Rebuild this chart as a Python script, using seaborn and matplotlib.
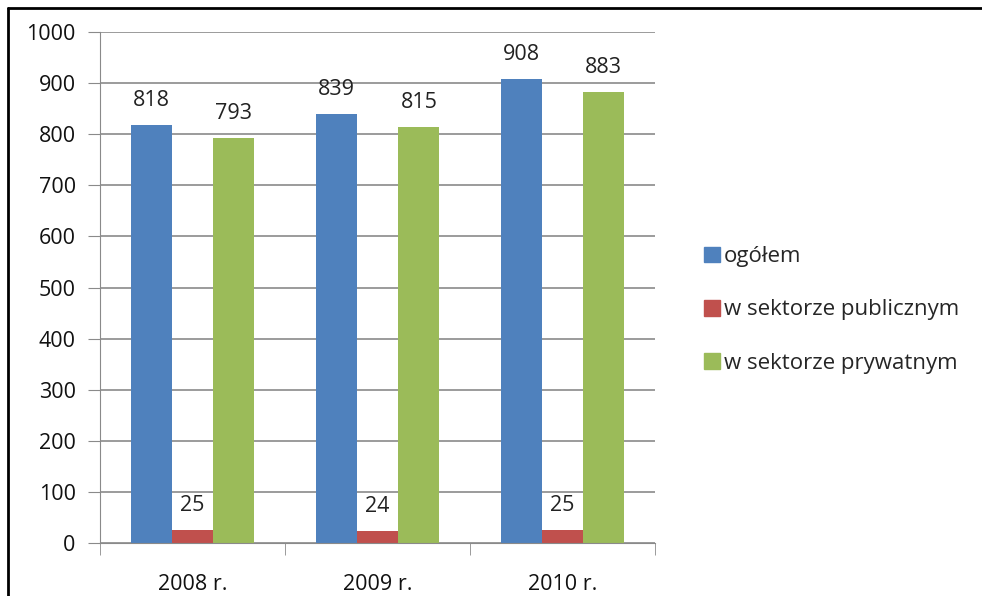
import pandas as pd
import matplotlib.pyplot as plt
import seaborn as sns
from matplotlib.lines import Line2D

years = ["2008 r.", "2009 r.", "2010 r."]
series = ["ogółem", "w sektorze publicznym", "w sektorze prywatnym"]
ogolem = [818, 839, 908]
publiczny = [25, 24, 25]
prywatny = [793, 815, 883]
colors = ["#4F81BD", "#C0504D", "#9BBB59"]

rows = []
for i, y in enumerate(years):
    rows.append((y, series[0], ogolem[i]))
    rows.append((y, series[1], publiczny[i]))
    rows.append((y, series[2], prywatny[i]))
df = pd.DataFrame(rows, columns=["rok", "seria", "wartosc"])

sns.set_style("white")
plt.rcParams["font.family"] = ["Open Sans", "DejaVu Sans"]

fig = plt.figure(figsize=(9.82, 5.96), dpi=100)
ax = fig.add_axes([100 / 982, 1 - 543 / 596, 555 / 982, 511 / 596])

sns.barplot(data=df, x="rok", y="wartosc", hue="seria", palette=colors,
            width=0.67, saturation=1, linewidth=0, ax=ax, legend=False)

for c in ax.containers:
    ax.bar_label(c, padding=10, fontsize=15.5, color="#222222")

ax.set_ylim(0, 1000)
ax.set_xlim(-0.5, 2.5)
ax.set_yticks(range(0, 1001, 100))
ax.set_xlabel("")
ax.set_ylabel("")
ax.yaxis.grid(True, color="#8a8a8a", linewidth=1.2)
ax.set_axisbelow(True)
for s in ["top", "right"]:
    ax.spines[s].set_visible(False)
ax.spines["left"].set_color("#8a8a8a")
ax.spines["bottom"].set_color("#8a8a8a")
ax.tick_params(axis="y", length=8.5, color="#8a8a8a", labelsize=15.5, pad=9,
               left=True, labelcolor="#111111")
ax.set_xticks([-0.5, 0.5, 1.5, 2.5], minor=True)
ax.tick_params(axis="x", which="minor", length=8.5, color="#8a8a8a", bottom=True)
ax.tick_params(axis="x", which="major", length=0, labelsize=15.5, pad=22,
               labelcolor="#111111")

handles = [plt.Rectangle((0, 0), 1, 1, color=c) for c in colors]
fig.legend(handles, series, loc="center left",
           bbox_to_anchor=(684 / 982, 1 - 310 / 596), frameon=False,
           fontsize=16, labelspacing=1.45, handlelength=0.7,
           handleheight=0.7, handletextpad=0.2)

fig.add_artist(Line2D([8 / 982, 8 / 982], [0, 1 - 8 / 596], color="black",
                      linewidth=2, transform=fig.transFigure))
fig.add_artist(Line2D([8 / 982, 1], [1 - 8 / 596, 1 - 8 / 596], color="black",
                      linewidth=2, transform=fig.transFigure))

fig.savefig("out.png", dpi=100)
